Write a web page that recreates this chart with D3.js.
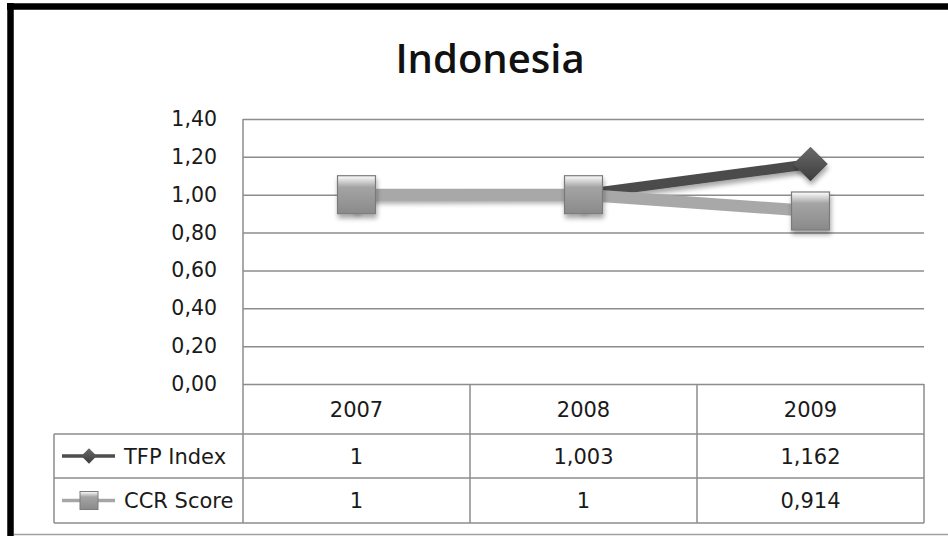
<!DOCTYPE html>
<html>
<head>
<meta charset="utf-8">
<script src="https://cdn.jsdelivr.net/npm/d3@7"></script>
<style>
  body { margin: 0; background: #fff; }
  svg { display: block; }
  text { font-family: "DejaVu Sans", sans-serif; fill: #1a1a1a; }
</style>
</head>
<body>
<svg id="chart"></svg>
<script>
// data
const title = "Indonesia"
const years = ["2007", "2008", "2009"]
const tfpIndex = [1, 1.003, 1.162]
const ccrScore = [1, 1, 0.914]
const seriesNames = ["TFP Index", "CCR Score"]
const yTicks = [0, 0.2, 0.4, 0.6, 0.8, 1.0, 1.2, 1.4]

const width = 948, height = 536
const plot = { left: 243, right: 924, top: 119, bottom: 384 }
const rowH = [50, 44, 45]   // header row, TFP row, CCR row
const legendLeft = 54

const svg = d3.select('#chart').attr('width', width).attr('height', height)

const defs = svg.append('defs')
const shadow = defs.append('filter').attr('id', 'shadow')
    .attr('x', '-40%').attr('y', '-40%').attr('width', '180%').attr('height', '190%')
shadow.append('feGaussianBlur').attr('in', 'SourceAlpha').attr('stdDeviation', 2.5)
shadow.append('feOffset').attr('dx', 1).attr('dy', 4).attr('result', 'off')
shadow.append('feComponentTransfer').append('feFuncA').attr('type', 'linear').attr('slope', 0.35)
const merge = shadow.append('feMerge')
merge.append('feMergeNode')
merge.append('feMergeNode').attr('in', 'SourceGraphic')

const sqGrad = defs.append('linearGradient').attr('id', 'sq').attr('x1', 0).attr('y1', 0).attr('x2', 0).attr('y2', 1)
sqGrad.append('stop').attr('offset', '0%').attr('stop-color', '#ffffff')
sqGrad.append('stop').attr('offset', '30%').attr('stop-color', '#a4a4a4')
sqGrad.append('stop').attr('offset', '100%').attr('stop-color', '#8a8a8a')

const dmGrad = defs.append('linearGradient').attr('id', 'dm').attr('x1', 0).attr('y1', 0).attr('x2', 0).attr('y2', 1)
dmGrad.append('stop').attr('offset', '0%').attr('stop-color', '#6a6a6a')
dmGrad.append('stop').attr('offset', '100%').attr('stop-color', '#3c3c3c')

// outer frame
svg.append('line').attr('x1', 10.5).attr('x2', 10.5).attr('y1', 3).attr('y2', height)
    .attr('stroke', '#000').attr('stroke-width', 6.5)
svg.append('line').attr('x1', 7).attr('x2', width).attr('y1', 6.5).attr('y2', 6.5)
    .attr('stroke', '#000').attr('stroke-width', 6.5)
svg.append('line').attr('x1', 14).attr('x2', width).attr('y1', 534.5).attr('y2', 534.5)
    .attr('stroke', '#a0a0a0').attr('stroke-width', 1.5)

svg.append('text')
    .attr('x', 490).attr('y', 73)
    .attr('text-anchor', 'middle')
    .style('font-family', '"Open Sans", "Noto Sans", sans-serif')
    .style('font-weight', 600)
    .style('font-size', '40px')
    .style('fill', '#111')
    .text(title)

const x = d3.scaleBand().domain(years).range([plot.left, plot.right])
const y = d3.scaleLinear().domain([0, 1.4]).range([plot.bottom, plot.top])
const comma = v => String(v).replace('.', ',')

// gridlines + y labels
const yAxis = svg.append('g')
    .attr('transform', `translate(${plot.left},0)`)
    .call(d3.axisLeft(y).tickValues(yTicks)
        .tickSize(-(plot.right - plot.left))
        .tickPadding(26)
        .tickFormat(d => d3.format('.2f')(d).replace('.', ',')))
yAxis.select('.domain').remove()
yAxis.selectAll('.tick line').attr('stroke', '#8c8c8c').attr('stroke-width', 1.5)
yAxis.selectAll('.tick text')
    .style('font-size', '20.5px')
    .style('font-family', '"DejaVu Sans", sans-serif')
    .attr('fill', '#1a1a1a')

// table (data table under the plot)
const gridCol = '#8c8c8c'
const rowY = [plot.bottom, plot.bottom + rowH[0], plot.bottom + rowH[0] + rowH[1], plot.bottom + rowH[0] + rowH[1] + rowH[2]]
const table = svg.append('g').attr('stroke', gridCol).attr('stroke-width', 1.5)
table.append('line').attr('x1', plot.left).attr('x2', plot.left).attr('y1', plot.top).attr('y2', rowY[3])
x.domain().forEach(c => {
    table.append('line').attr('x1', x(c) + x.bandwidth()).attr('x2', x(c) + x.bandwidth())
        .attr('y1', rowY[0]).attr('y2', rowY[3])
})
rowY.slice(1).forEach(ry => {
    table.append('line').attr('x1', legendLeft).attr('x2', plot.right).attr('y1', ry).attr('y2', ry)
})
table.append('line').attr('x1', legendLeft).attr('x2', legendLeft).attr('y1', rowY[1]).attr('y2', rowY[3])

const cellText = (txt, cx, r) => svg.append('text')
    .attr('x', cx).attr('y', (rowY[r] + rowY[r + 1]) / 2)
    .attr('text-anchor', 'middle').attr('dy', '0.36em')
    .style('font-size', '21px')
    .text(txt)

years.forEach((yr, i) => {
    const cx = x(yr) + x.bandwidth() / 2
    cellText(yr, cx, 0)
    cellText(comma(tfpIndex[i]), cx, 1)
    cellText(comma(ccrScore[i]), cx, 2)
})

// legend keys in the table
const key = (r, kind, name) => {
    const cy = (rowY[r] + rowY[r + 1]) / 2
    const col = kind === 'diamond' ? '#4d4d4d' : '#a6a6a6'
    svg.append('line').attr('x1', 62).attr('x2', 115).attr('y1', cy).attr('y2', cy)
        .attr('stroke', col).attr('stroke-width', 3.5)
    if (kind === 'diamond') {
        svg.append('path').attr('d', d3.symbol(d3.symbolDiamond2, 150)())
            .attr('transform', `translate(89,${cy})`).attr('fill', 'url(#dm)')
    } else {
        svg.append('rect').attr('x', 80).attr('y', cy - 9).attr('width', 18).attr('height', 18)
            .attr('fill', 'url(#sq)').attr('stroke', '#7c7c7c')
    }
    svg.append('text').attr('x', 124).attr('y', cy).attr('dy', '0.36em')
        .style('font-size', '21px').text(name)
}
key(1, 'diamond', seriesNames[0])
key(2, 'square', seriesNames[1])

// lines
const cx = (d, i) => x(years[i]) + x.bandwidth() / 2
const line = d3.line().x(cx).y(d => y(d))

svg.append('path').datum(tfpIndex).attr('d', line)
    .attr('fill', 'none').attr('stroke', '#4b4b4b').attr('stroke-width', 10)
    .attr('stroke-linejoin', 'round').attr('filter', 'url(#shadow)')
svg.append('g').selectAll('path').data(tfpIndex).join('path')
    .attr('d', d3.symbol(d3.symbolDiamond2, 760)())
    .attr('transform', (d, i) => `translate(${cx(d, i)},${y(d)})`)
    .attr('fill', 'url(#dm)').attr('filter', 'url(#shadow)')

svg.append('path').datum(ccrScore).attr('d', line)
    .attr('fill', 'none').attr('stroke', '#a8a8a8').attr('stroke-width', 12)
    .attr('stroke-linejoin', 'round')
svg.append('g').selectAll('rect').data(ccrScore).join('rect')
    .attr('x', (d, i) => cx(d, i) - 19).attr('y', d => y(d) - 19)
    .attr('width', 38).attr('height', 38)
    .attr('fill', 'url(#sq)').attr('stroke', '#7a7a7a').attr('stroke-width', 1.2)
    .attr('filter', 'url(#shadow)')
</script>
</body>
</html>
